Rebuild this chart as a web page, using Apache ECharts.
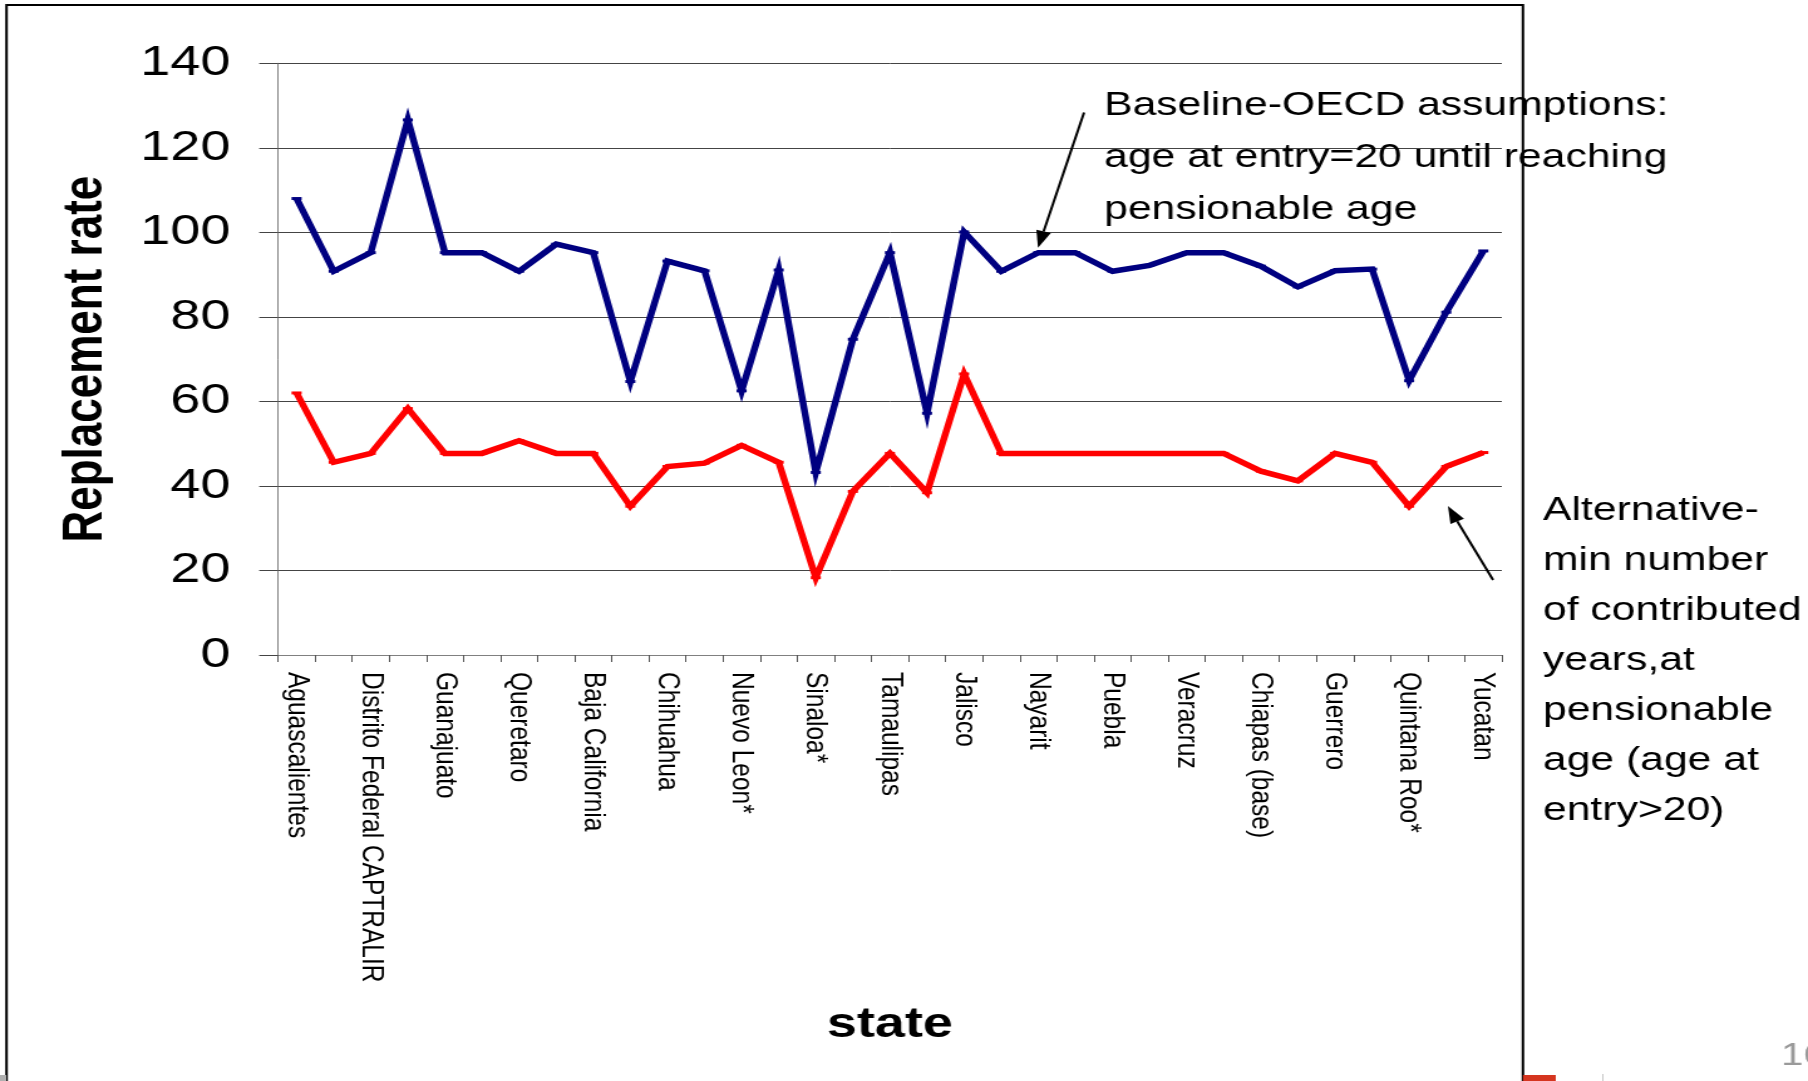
<!DOCTYPE html>
<html>
<head>
<meta charset="utf-8">
<script src="https://cdn.jsdelivr.net/npm/echarts@6/dist/echarts.min.js"></script>
<style>
  html, body { margin: 0; padding: 0; background: #fff; overflow: hidden; width: 1808px; height: 1081px; }
  /* the slide is laid out at 4:3 and stretched to the wide page */
  #chart { width: 1441px; height: 1081px; transform: scaleX(1.25468); transform-origin: 0 0; }
</style>
</head>
<body>
<div id="chart"></div>
<script>
// States on the category axis (every other tick carries a label)
const states = [
  'Aguascalientes', '', 'Distrito Federal CAPTRALIR', '', 'Guanajuato', '',
  'Queretaro', '', 'Baja California', '', 'Chihuahua', '', 'Nuevo Leon*', '',
  'Sinaloa*', '', 'Tamaulipas', '', 'Jalisco', '', 'Nayarit', '', 'Puebla', '',
  'Veracruz', '', 'Chiapas (base)', '', 'Guerrero', '', 'Quintana Roo*', '', 'Yucatan'
];

// Replacement rate, baseline OECD assumptions (entry at 20 until pensionable age)
const baselineOECD = [
  108.0, 90.8, 95.2, 126.6, 95.2, 95.2, 90.8, 97.2, 95.2, 64.7, 93.2,
  90.9, 62.5, 91.1, 43.2, 74.7, 95.2, 57.2, 100.1, 90.8, 95.2, 95.2,
  90.8, 92.2, 95.2, 95.2, 92.0, 87.1, 90.9, 91.3, 64.9, 81.1, 95.6
];

// Replacement rate, alternative (minimum number of contributed years)
const alternativeMinYears = [
  62.0, 45.6, 47.7, 58.3, 47.7, 47.7, 50.7, 47.7, 47.7, 35.2, 44.6,
  45.4, 49.6, 45.6, 18.3, 38.7, 47.7, 38.4, 66.5, 47.7, 47.7, 47.7,
  47.7, 47.7, 47.7, 47.7, 43.5, 41.2, 47.7, 45.6, 35.2, 44.6, 47.9
];

// Value axis ticks
const yTicks = [0, 20, 40, 60, 80, 100, 120, 140];

const baselineNote = 'Baseline-OECD assumptions:\nage at entry=20 until reaching\npensionable age';
const alternativeNote = 'Alternative-\nmin number\nof contributed\nyears,at\npensionable\nage (age at\nentry>20)';

const FONT = "'Liberation Sans', Arial, Helvetica, sans-serif";

// straight arrow with a filled head at (x2, y2)
function arrow(x1, y1, x2, y2) {
  const dx = x2 - x1, dy = y2 - y1, len = Math.hypot(dx, dy);
  const ux = dx / len, uy = dy / len, nx = -uy, ny = ux;
  const headLen = 17, headHalf = 6;
  const bx = x2 - ux * headLen, by = y2 - uy * headLen;
  return [
    { type: 'line', shape: { x1: x1, y1: y1, x2: bx, y2: by },
      style: { stroke: '#000', lineWidth: 2 }, z: 10 },
    { type: 'polygon', shape: { points: [[x2, y2], [bx + nx * headHalf, by + ny * headHalf], [bx - nx * headHalf, by - ny * headHalf]] },
      style: { fill: '#000' }, z: 10 }
  ];
}

const chart = echarts.init(document.getElementById('chart'), null, { renderer: 'canvas' });

chart.setOption({
  animation: false,
  backgroundColor: '#ffffff',
  textStyle: { fontFamily: FONT },
  grid: { left: 221.6, right: 244, top: 63.3, bottom: 426, containLabel: false },
  xAxis: {
    type: 'category',
    data: states,
    boundaryGap: true,
    name: 'state',
    nameLocation: 'middle',
    nameGap: 349,
    nameTextStyle: { fontFamily: FONT, fontSize: 43, fontWeight: 'bold', color: '#000' },
    axisLine: { show: true, lineStyle: { color: '#808080', width: 1 } },
    axisTick: { show: true, interval: 0, length: 7, lineStyle: { color: '#555', width: 1 } },
    axisLabel: { interval: 1, rotate: -90, margin: 17, fontFamily: FONT, fontSize: 24.5, color: '#000' },
    splitLine: { show: false }
  },
  yAxis: {
    type: 'value',
    min: yTicks[0],
    max: yTicks[yTicks.length - 1],
    interval: yTicks[1] - yTicks[0],
    name: 'Replacement rate',
    nameLocation: 'middle',
    nameRotate: 90,
    nameGap: 131,
    nameTextStyle: { fontFamily: FONT, fontSize: 44, fontWeight: 'bold', color: '#000' },
    axisLine: { show: true, lineStyle: { color: '#808080', width: 1 } },
    axisTick: { show: true, inside: false, length: 15, lineStyle: { color: '#444', width: 1 } },
    axisLabel: { margin: 38, fontFamily: FONT, fontSize: 43, color: '#000', padding: [6, 0, 0, 0] },
    splitLine: { show: true, lineStyle: { color: '#444', width: 1 } }
  },
  series: [
    {
      name: 'Baseline-OECD assumptions',
      type: 'line',
      data: baselineOECD,
      symbol: 'rect',
      symbolSize: [8, 3],
      itemStyle: { color: '#000080' },
      lineStyle: { color: '#000080', width: 5.5, join: 'miter' },
      z: 3
    },
    {
      name: 'Alternative-min number of contributed years',
      type: 'line',
      data: alternativeMinYears,
      symbol: 'rect',
      symbolSize: [8, 3],
      itemStyle: { color: '#ff0000' },
      lineStyle: { color: '#ff0000', width: 5.5, join: 'miter' },
      z: 3
    }
  ],
  graphic: [
    // chart frame
    { type: 'rect', shape: { x: 5.2, y: 5, width: 1208.6, height: 1100 },
      style: { fill: null, stroke: '#000', lineWidth: 2 }, z: 5 },
    // annotations
    { type: 'text', x: 880, y: 80, z: 10,
      style: { text: baselineNote, font: "34px " + FONT, lineHeight: 52, fill: '#000', textVerticalAlign: 'top' } },
    { type: 'text', x: 1229.8, y: 486, z: 10,
      style: { text: alternativeNote, font: "34px " + FONT, lineHeight: 50, fill: '#000', textVerticalAlign: 'top' } },
    ...arrow(864, 112.5, 827.3, 247.8),
    ...arrow(1190, 580, 1154, 506),
    // slide footer
    { type: 'rect', shape: { x: 1213.8, y: 1075, width: 26.2, height: 6 }, style: { fill: '#d5351f' }, z: 6 },
    { type: 'rect', shape: { x: 1277, y: 1074, width: 1, height: 7 }, style: { fill: '#c8c8c8' }, z: 6 },
    { type: 'rect', shape: { x: 0, y: 1075, width: 5, height: 6 }, style: { fill: '#b0b0b0' }, z: 6 },
    { type: 'text', x: 1419.5, y: 1040, z: 6,
      style: { text: '16', font: "32px 'Liberation Sans Narrow', " + FONT, fill: '#9a9a9a', textVerticalAlign: 'top' } }
  ]
});
</script>
</body>
</html>
